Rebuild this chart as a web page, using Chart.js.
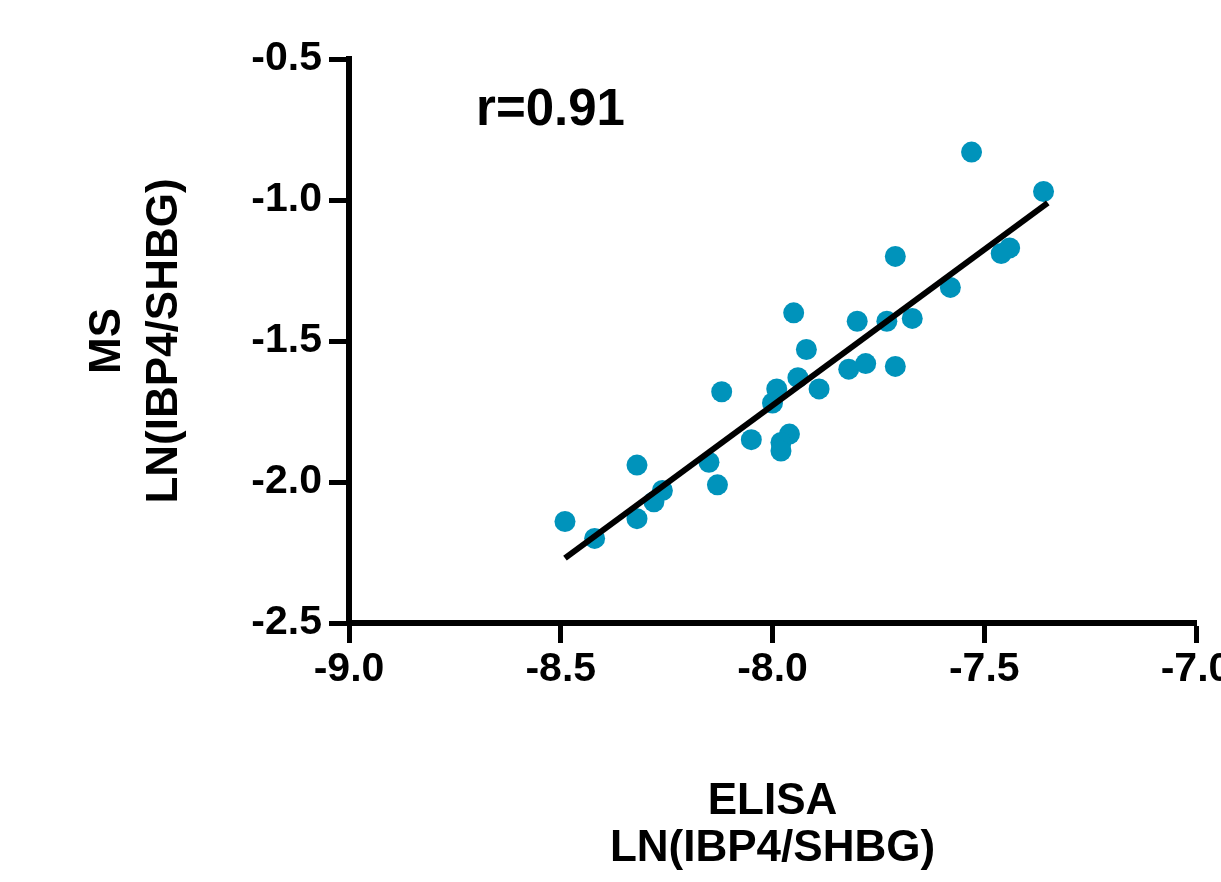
<!DOCTYPE html>
<html>
<head>
<meta charset="utf-8">
<script src="https://cdn.jsdelivr.net/npm/chart.js@4/dist/chart.umd.min.js"></script>
<style>
    html, body { margin: 0; padding: 0; background: #fff; overflow: hidden; }
    #caixa { width: 1221px; height: 882px; position: relative; }
</style>
</head>
<body>
<div id="caixa"><canvas id="graficoCorrelacao"></canvas></div>
<script>
// ELISA values (x) and MS values (y), one entry per sample
const elisaX = [-8.49, -8.42, -8.32, -8.32, -8.28, -8.26, -8.12, -8.15, -8.13, -8.05,
                -7.99, -8.00, -7.94, -7.89, -7.92, -7.96, -7.98, -7.98, -7.53, -7.36,
                -7.71, -7.44, -7.46, -7.58, -7.95, -7.80, -7.73, -7.67, -7.82, -7.78, -7.71];
const msY = [-2.14, -2.20, -1.94, -2.13, -2.07, -2.03, -1.68, -1.93, -2.01, -1.85,
             -1.67, -1.72, -1.63, -1.67, -1.53, -1.83, -1.86, -1.89, -0.83, -0.97,
             -1.20, -1.17, -1.19, -1.31, -1.40, -1.43, -1.43, -1.42, -1.60, -1.58, -1.59];

// regression line end points
const linhaX = [-8.49, -7.35];
const linhaY = [-2.27, -1.01];

const xTicks = [-9.0, -8.5, -8.0, -7.5, -7.0];
const yTicks = [-2.5, -2.0, -1.5, -1.0, -0.5];

const textoR = 'r=0.91';
const posicaoR = [-8.70, -0.684];

const fonte = "'Liberation Sans', Arial, sans-serif";
const azul = '#0093BB';

const pontos = elisaX.map((x, i) => ({ x: x, y: msY[i] }));
const pontosLinha = linhaX.map((x, i) => ({ x: x, y: linhaY[i] }));

// draws the correlation text at data coordinates
const pluginTextoR = {
    id: 'textoR',
    afterDatasetsDraw(chart) {
        const ctx = chart.ctx;
        const px = chart.scales.x.getPixelForValue(posicaoR[0]);
        const py = chart.scales.y.getPixelForValue(posicaoR[1]);
        ctx.save();
        ctx.font = 'bold 51px ' + fonte;
        ctx.fillStyle = '#000';
        ctx.textAlign = 'left';
        ctx.textBaseline = 'middle';
        ctx.fillText(textoR, px, py);
        ctx.restore();
    }
};

const elemento = document.getElementById('graficoCorrelacao');

const grafico = new Chart(elemento, {
    type: 'scatter',
    data: {
        datasets: [{
            data: pontosLinha,
            showLine: true,
            borderColor: '#000',
            borderWidth: 6,
            pointRadius: 0,
            fill: false
        }, {
            data: pontos,
            backgroundColor: azul,
            borderWidth: 0,
            pointRadius: 10.5
        }]
    },
    options: {
        responsive: true,
        maintainAspectRatio: false,
        animation: false,
        layout: { padding: { left: 0, top: 59, right: 25, bottom: 0 } },
        plugins: {
            legend: { display: false },
            tooltip: { enabled: false }
        },
        scales: {
            x: {
                type: 'linear',
                min: -9,
                max: -7,
                afterBuildTicks: (s) => { s.ticks = xTicks.map(v => ({ value: v })); },
                afterFit: (s) => { s.height = 259; s.paddingLeft = 0; s.paddingRight = 0; },
                border: { display: true, color: '#000', width: 6 },
                grid: { drawOnChartArea: false, drawTicks: true, tickLength: 20, tickColor: '#000', tickWidth: 5 },
                ticks: {
                    color: '#000',
                    padding: 2,
                    font: { family: fonte, size: 41, weight: 'bold' },
                    callback: (v) => v.toFixed(1)
                },
                title: {
                    display: true,
                    text: ['ELISA', 'LN(IBP4/SHBG)'],
                    color: '#000',
                    padding: { top: 0, bottom: 10 },
                    font: { family: fonte, size: 44, weight: 'bold', lineHeight: 1.07 }
                }
            },
            y: {
                type: 'linear',
                min: -2.5,
                max: -0.5,
                afterBuildTicks: (s) => { s.ticks = yTicks.map(v => ({ value: v })); },
                afterFit: (s) => { s.width = 349; s.paddingTop = 0; s.paddingBottom = 0; },
                border: { display: true, color: '#000', width: 6 },
                grid: { drawOnChartArea: false, drawTicks: true, tickLength: 20, tickColor: '#000', tickWidth: 5 },
                ticks: {
                    color: '#000',
                    padding: 7,
                    font: { family: fonte, size: 41, weight: 'bold' },
                    callback: (v) => v.toFixed(1)
                },
                title: {
                    display: true,
                    text: ['MS', 'LN(IBP4/SHBG)'],
                    color: '#000',
                    padding: { top: 79, bottom: 0 },
                    font: { family: fonte, size: 44, weight: 'bold', lineHeight: 1.3 }
                }
            }
        }
    },
    plugins: [pluginTextoR]
});
</script>
</body>
</html>
